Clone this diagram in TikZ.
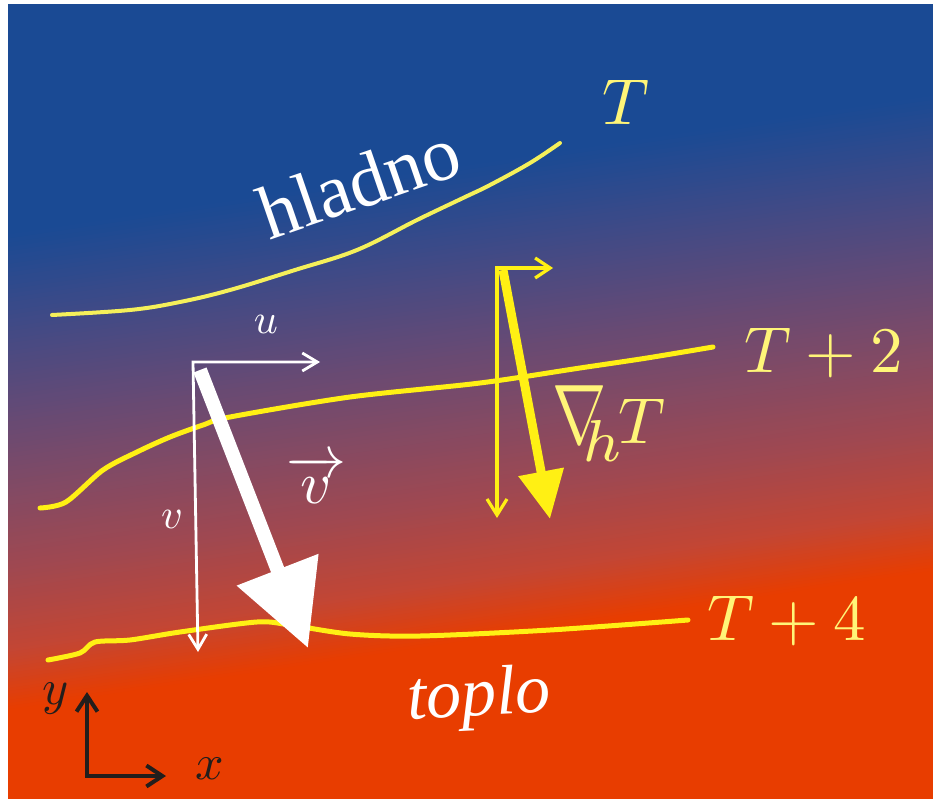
\documentclass[tikz,border=0pt]{standalone}
\usepackage{graphicx}
\usepackage{amsmath}
\usepackage{fontspec}
\newfontfamily\tms{Liberation Serif}
\usetikzlibrary{arrows.meta}
\definecolor{bgblue}{RGB}{26,74,148}
\definecolor{gA}{RGB}{62,74,135}
\definecolor{gB}{RGB}{95,74,120}
\definecolor{gC}{RGB}{130,74,100}
\definecolor{gD}{RGB}{160,72,80}
\definecolor{gE}{RGB}{195,70,52}
\definecolor{bgorange}{RGB}{232,61,0}
\definecolor{lineyel}{RGB}{255,240,20}
\definecolor{paleyel}{RGB}{245,240,90}
\definecolor{labyel}{RGB}{255,245,120}
\definecolor{axdark}{RGB}{34,30,28}
\newcommand\gband[4]{%
  \foreach \i in {0,...,19}{%
    \pgfmathsetmacro\ya{#1+(#2-#1)*\i/20}%
    \pgfmathsetmacro\yb{#1+(#2-#1)*(\i+1)/20+0.8}%
    \pgfmathtruncatemacro\pc{100*(\i+0.5)/20}%
    \fill[#4!\pc!#3] (0,\ya+70.5) -- (933,\ya-69.45) -- (933,\yb-69.45) -- (0,\yb+70.5) -- cycle;
  }}
\begin{document}
\begin{tikzpicture}[x=1pt,y=-1pt,
  isoline/.style={line width=5pt, color=lineyel, line cap=round, line join=round},
  paleline/.style={line width=4pt, color=paleyel, line cap=round, line join=round},
  whiteax/.style={white, line width=2.8pt, {Straight Barb[length=15pt,width=18pt]}-{Straight Barb[length=15pt,width=18pt]}},
  yelax/.style={lineyel, line width=3.2pt, {Straight Barb[length=15pt,width=20pt]}-{Straight Barb[length=16pt,width=20pt]}},
  darkax/.style={axdark, line width=4pt, {Straight Barb[length=16pt,width=21pt]}-{Straight Barb[length=16pt,width=21pt]}},
  mlab/.style={anchor=base, inner sep=0pt, text=labyel, scale=6.5},
  wlab/.style={anchor=base, inner sep=0pt, text=white, scale=4.2},
  dlab/.style={anchor=base, inner sep=0pt, text=axdark, scale=5},
  wordlab/.style={inner sep=0pt, text=white}
]
\useasboundingbox (0,0) rectangle (933,799);
\fill[white] (0,0) rectangle (933,799);
\begin{scope}
  \clip (8,5) rectangle (933,799);
  \fill[bgblue] (0,0) rectangle (933,799);
  \gband{165}{250}{bgblue}{gA}
  \gband{250}{330}{gA}{gB}
  \gband{330}{420}{gB}{gC}
  \gband{420}{500}{gC}{gD}
  \gband{500}{580}{gD}{gE}
  \gband{580}{640}{gE}{bgorange}
  \fill[bgorange] (0,710.5) -- (933,570.55) -- (933,900) -- (0,900) -- cycle;
\end{scope}

% isotherms
\draw[paleline] plot[smooth, tension=0.6] coordinates {(52,315) (130,310) (180,302) (230,290) (295,270) (357,250) (417,220) (463,198) (490,185) (530,163) (560,143)};
\draw[isoline] plot[smooth, tension=0.5] coordinates {(40,508) (66,502) (103,470) (137,452) (170,437) (203,425) (230,417) (350,397) (480,383) (580,368) (647,358) (713,347)};
\draw[isoline] plot[smooth, tension=0.5] coordinates {(48,660) (80,653) (95,642) (130,640) (180,632) (257,622) (290,625) (350,634) (420,636) (550,630) (688,620)};

% labels of isotherms
\node[mlab] (lT) at (626,125) {$T$};
\node[mlab] (lT2) at (824,372) {$T+2$};
\node[mlab] (lT4) at (787,640) {$T+4$};

% words
\node[wordlab, rotate=19, font=\tms\fontsize{76}{80}\selectfont] (cold) at (359,182) {hladno};
\node[wordlab, rotate=3, font=\tms\itshape\fontsize{70}{74}\selectfont] (warm) at (479,699) {toplo};

% u-v components (white)
\coordinate (wc) at (193,362);
\coordinate (wu) at (320,362);
\coordinate (wv) at (198,652);
\draw[whiteax] (wu) -- (wc) -- (wv);
\node[wlab] (lu) at (266,333) {$u$};
\node[wlab] (lv) at (172,528) {$v$};

% velocity vector
\coordinate (vs) at (200,370);
\coordinate (ve) at (308,648);
\draw[white, line width=14pt, -{Triangle[length=84pt,width=84pt]}] (vs) -- (ve);
\node[anchor=base, inner sep=0pt, text=white, scale=6] (lvec) at (316,503) {$\overrightarrow{v}$};

% gradient components (yellow)
\coordinate (yc) at (497,268);
\coordinate (yh) at (553,268);
\coordinate (yv) at (497,518);
\draw[yelax] (yh) -- (yc) -- (yv);
\coordinate (gs) at (503,270);
\coordinate (ge) at (550,519);
\draw[lineyel, line width=9pt, -{Triangle[length=48pt,width=44pt]}] (gs) -- (ge);
\node[mlab] (lgrad) at (609,443) {$\scalebox{1}[1.3]{$\nabla$}_{\mkern-8mu\scalebox{1.3}{$\scriptstyle h$}}\mkern-2mu T$};

% x-y axes
\coordinate (xc) at (87,776);
\coordinate (xx) at (166,776);
\coordinate (xy) at (87,692);
\draw[darkax] (xx) -- (xc) -- (xy);
\node[dlab] (lx) at (210,779) {$x$};
\node[dlab] (ly) at (56,704) {$y$};
\end{tikzpicture}
\end{document}
